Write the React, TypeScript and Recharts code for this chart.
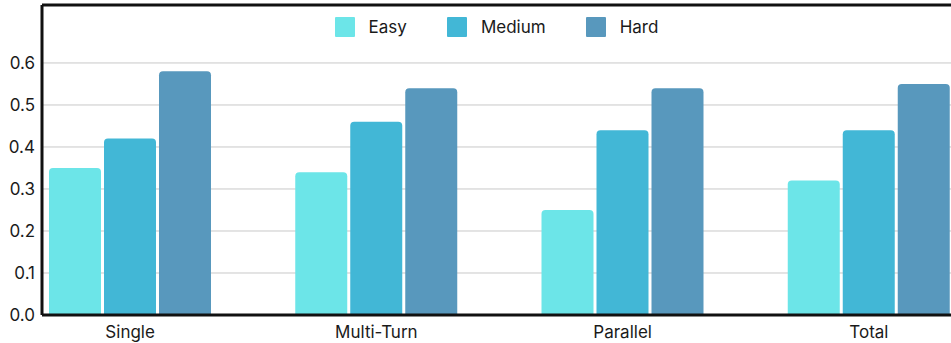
import { BarChart, Bar, XAxis, YAxis, CartesianGrid, ReferenceLine } from "recharts"

const categories = ["Single", "Multi-Turn", "Parallel", "Total"]
const easy = [0.35, 0.34, 0.25, 0.32]
const medium = [0.42, 0.46, 0.44, 0.44]
const hard = [0.58, 0.54, 0.54, 0.55]
const yTicks = [0, 0.1, 0.2, 0.3, 0.4, 0.5, 0.6]
const yMax = 0.738

const series = [
  { key: "easy", name: "Easy", color: "#6ce5e8" },
  { key: "medium", name: "Medium", color: "#42b7d6" },
  { key: "hard", name: "Hard", color: "#5898bd" },
]

const data = categories.map((c, i) => ({
  category: c,
  easy: easy[i],
  medium: medium[i],
  hard: hard[i],
}))

const FONT = "Inter, 'Liberation Sans', sans-serif"

// legend sits over the plot, it doesn't take space from it
function ChartLegend() {
  return (
    <div
      style={{
        position: "absolute",
        top: 17,
        left: 42,
        width: 909,
        display: "flex",
        justifyContent: "center",
        alignItems: "center",
        gap: 40,
        fontFamily: FONT,
        fontSize: 17,
        color: "#1a1a1a",
        lineHeight: "20px",
      }}
    >
      {series.map((s) => (
        <div key={s.key} style={{ display: "flex", alignItems: "center", gap: 14 }}>
          <span
            style={{
              width: 20,
              height: 20,
              background: s.color,
              borderRadius: 1,
              display: "inline-block",
            }}
          />
          <span>{s.name}</span>
        </div>
      ))}
    </div>
  )
}

export default function App() {
  return (
    <div style={{ position: "fixed", left: 0, top: 0, width: 951, height: 343, background: "#fff" }}>
      <BarChart
        width={951}
        height={343}
        data={data}
        margin={{ top: 5, right: 0, bottom: 0, left: 0 }}
        barGap={3}
        barSize={52}
      >
        <CartesianGrid vertical={false} stroke="#c8c8c8" strokeWidth={1} />
        <XAxis
          dataKey="category"
          height={28}
          tickLine={false}
          tickSize={0}
          tickMargin={11}
          axisLine={{ stroke: "#111", strokeWidth: 3 }}
          tick={{ fontSize: 17, fill: "#1a1a1a", fontFamily: FONT }}
          padding={{ left: -35, right: -41 }}
        />
        <YAxis
          width={42}
          domain={[0, yMax]}
          ticks={yTicks}
          tickFormatter={(v: number) => v.toFixed(1)}
          tickLine={false}
          tickSize={0}
          tickMargin={7}
          axisLine={{ stroke: "#111", strokeWidth: 3 }}
          tick={{ fontSize: 17, fill: "#1a1a1a", fontFamily: FONT }}
          allowDataOverflow
        />
        <ReferenceLine y={yMax} stroke="#111" strokeWidth={3} ifOverflow="visible" />
        {series.map((s) => (
          <Bar
            key={s.key}
            dataKey={s.key}
            name={s.name}
            fill={s.color}
            radius={[4, 4, 0, 0]}
            isAnimationActive={false}
          />
        ))}
      </BarChart>
      <ChartLegend />
    </div>
  )
}
